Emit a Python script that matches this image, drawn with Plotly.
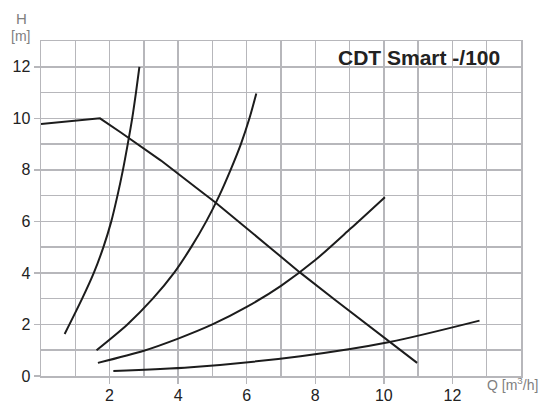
import plotly.graph_objects as go

# Pump curve (H vs Q)
pump_q = [0.0, 1.72, 2.33, 3.5, 4.66, 5.07, 6.7, 7.55, 8.58, 10.17, 10.97]
pump_h = [9.78, 10.0, 9.45, 8.36, 7.17, 6.75, 4.96, 4.02, 2.95, 1.32, 0.51]

# System curves
sys1_q = [0.69, 1.2, 1.54, 1.82, 2.05, 2.23, 2.39, 2.53, 2.66, 2.77, 2.87]
sys1_h = [1.63, 3.0, 4.0, 5.0, 6.0, 7.0, 8.0, 9.0, 10.0, 11.0, 12.0]

sys2_q = [1.62, 2.52, 3.26, 3.88, 4.38, 4.82, 5.2, 5.53, 5.83, 6.08, 6.28]
sys2_h = [1.0, 2.0, 3.0, 4.0, 5.0, 6.0, 7.0, 8.0, 9.0, 10.0, 10.96]

sys3_q = [1.66, 3.0, 4.0, 5.0, 6.0, 7.0, 8.0, 9.03, 10.03]
sys3_h = [0.51, 0.98, 1.45, 2.0, 2.68, 3.5, 4.5, 5.72, 6.94]

sys4_q = [2.11, 4.37, 7.57, 10.17, 12.79]
sys4_h = [0.19, 0.34, 0.77, 1.32, 2.15]

x_ticks = [2, 4, 6, 8, 10, 12]
y_ticks = [0, 2, 4, 6, 8, 10, 12]

title_text = "CDT Smart -/100"

LINE = "#1c1c1c"
GRID = "#b7b7bb"
TXT = "#222222"
LBL = "#808080"
FONT = "Liberation Sans, Arial, sans-serif"

fig = go.Figure()
fig.add_trace(go.Scatter(x=pump_q, y=pump_h, mode="lines",
                         line=dict(color=LINE, width=2), hoverinfo="skip"))
for q, h in [(sys1_q, sys1_h), (sys2_q, sys2_h), (sys3_q, sys3_h), (sys4_q, sys4_h)]:
    fig.add_trace(go.Scatter(x=q, y=h, mode="lines",
                             line=dict(color=LINE, width=2, shape="spline", smoothing=0.8),
                             hoverinfo="skip"))

axis_common = dict(
    showgrid=True, gridcolor=GRID, gridwidth=1.5,
    showline=True, linecolor=GRID, linewidth=1.5, mirror=True,
    ticks="outside", ticklen=6, tickcolor=GRID, tickwidth=1.5,
    tickfont=dict(family=FONT, size=16, color=TXT),
    zeroline=False, automargin=False, fixedrange=True,
)

fig.update_xaxes(range=[0, 14], tickmode="array", tickvals=x_ticks, ticklabelstandoff=-2,
                 minor=dict(dtick=1, tick0=0, showgrid=True, gridcolor=GRID, gridwidth=1.5, ticks=""),
                 **axis_common)
fig.update_yaxes(range=[0, 13], tickmode="array", tickvals=y_ticks,
                 minor=dict(dtick=1, tick0=0, showgrid=True, gridcolor=GRID, gridwidth=1.5, ticks=""),
                 **axis_common)

fig.add_annotation(xref="paper", yref="paper", x=(502 - 41) / 480, y=1 - (58 - 41) / 335,
                   text="<b>" + title_text + "</b>", showarrow=False, xanchor="right", yanchor="middle",
                   font=dict(family=FONT, size=21, color=TXT))

fig.add_annotation(xref="paper", yref="paper", x=(21 - 41) / 480, y=1 + (41 - 18) / 335,
                   text="H", showarrow=False, xanchor="center", yanchor="middle",
                   font=dict(family=FONT, size=15, color=LBL))
fig.add_annotation(xref="paper", yref="paper", x=(20 - 41) / 480, y=1 + (41 - 36) / 335,
                   text="[m]", showarrow=False, xanchor="center", yanchor="middle",
                   font=dict(family=FONT, size=14, color=LBL))
fig.add_annotation(xref="paper", yref="paper", x=(540 - 41) / 480, y=-(384 - 376) / 335,
                   text="Q [m<sup>3</sup>/h]", showarrow=False, xanchor="right", yanchor="middle",
                   font=dict(family=FONT, size=14, color=LBL))

fig.update_layout(
    width=543, height=403,
    margin=dict(l=41, r=22, t=41, b=27),
    paper_bgcolor="white", plot_bgcolor="white",
    showlegend=False,
)

fig.write_html("out.html", config={"displayModeBar": False, "staticPlot": True},
               post_script="document.body.style.margin='0';document.body.style.overflow='hidden';")
